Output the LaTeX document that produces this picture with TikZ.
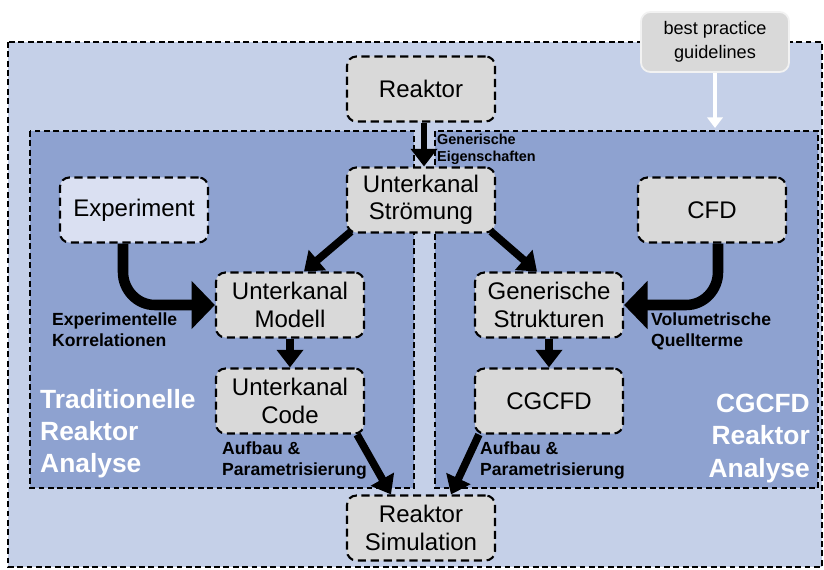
\documentclass[tikz,border=0pt]{standalone}
\usepackage{fontspec}
\setmainfont{Liberation Sans}
\usetikzlibrary{calc}
\usetikzlibrary{arrows.meta}
\definecolor{outerblue}{RGB}{197,208,232}
\definecolor{innerblue}{RGB}{142,162,208}
\definecolor{boxgray}{RGB}{217,217,217}
\definecolor{expblue}{RGB}{218,224,242}

\begin{document}
\begin{tikzpicture}[x=0.03cm,y=-0.03cm,
  frame/.style={draw,dash pattern=on 5pt off 3pt,line width=1.4pt},
  box/.style={draw,dash pattern=on 7pt off 4pt,line width=1.8pt,rounded corners=8pt,fill=boxgray,
    minimum width=4.44cm,minimum height=1.95cm,align=center,font=\fontsize{20.5}{23.5}\selectfont},
  lab/.style={font=\bfseries\fontsize{15}{17.5}\selectfont,align=left,inner sep=0pt},
  big/.style={font=\bfseries\fontsize{22.5}{27.5}\selectfont,text=white,inner sep=0pt},
  flow/.style={line width=6.5pt,-{Triangle[length=15pt,width=22pt]}}]

\useasboundingbox (0,0) rectangle (824,570);

% frames
\draw[frame,fill=outerblue] (8,42) rectangle (822,567);
\draw[frame,fill=innerblue] (30,131) rectangle (414,488);
\draw[frame,fill=innerblue] (435,131) rectangle (818,488);

% boxes
\node[box] (reaktor) at (421,89) {Reaktor};
\node[box] (stroemung) at (421,200) {Unterkanal\\Strömung};
\node[box,fill=expblue] (exp) at (134,210) {Experiment};
\node[box] (cfd) at (712,210) {CFD};
\node[box] (modell) at (290,305) {Unterkanal\\Modell};
\node[box] (strukturen) at (549,305) {Generische\\Strukturen};
\node[box] (code) at (290,401) {Unterkanal\\Code};
\node[box] (cgcfd) at (549,401) {CGCFD};
\node[box] (sim) at (421,528) {Reaktor\\Simulation};
\node[draw=white!90!gray,line width=1.5pt,rounded corners=8pt,fill=boxgray,minimum width=4.44cm,
  minimum height=1.8cm,align=center,font=\fontsize{15.5}{20}\selectfont] (bpg) at (715,42) {best practice\\guidelines};
\coordinate (bpgend) at (715,128);

% arrows
\draw[line width=3.5pt,white,-{Triangle[length=9pt,width=13pt]}] (bpg.south) -- (bpgend);
\draw[flow,line width=5pt] ($(reaktor.south)+(3,0)$) -- ($(stroemung.north)+(3,0)$);
\draw[flow] ($(stroemung.south west)+(5,-2)$) -- ($(modell.north)+(14,0)$);
\draw[flow] ($(stroemung.south east)+(-5,-2)$) -- ($(strukturen.north)+(-12,0)$);
\draw[flow] (modell.south) -- (code.north);
\draw[flow] (strukturen.south) -- (cgcfd.north);
\draw[flow] ($(code.south east)+(-8,0)$) -- ($(sim.north)+(-30,0)$);
\draw[flow] ($(cgcfd.south west)+(5,0)$) -- ($(sim.north)+(30,0)$);
\draw[line width=9pt,-{Triangle[length=20pt,width=40pt]}] ($(exp.south)+(-11,0)$) -- (123,272)
  to[out=-90,in=180] (155,305) -- (modell.west);
\draw[line width=9pt,-{Triangle[length=20pt,width=40pt]}] ($(cfd.south)+(6,0)$) -- (718,272)
  to[out=-90,in=0] (686,305) -- (strukturen.east);

% labels
\node[lab,font=\bfseries\fontsize{12.3}{14}\selectfont,anchor=north west] (eig) at (437,134) {Generische\\Eigenschaften};
\node[lab,anchor=north west] (korr) at (52,313) {Experimentelle\\Korrelationen};
\node[lab,anchor=north west] (quell) at (651,313) {Volumetrische\\Quellterme};
\node[lab,anchor=north west] (aufl) at (222,442) {Aufbau \&\\Parametrisierung};
\node[lab,anchor=north west] (aufr) at (480,442) {Aufbau \&\\Parametrisierung};
\node[big,align=left,anchor=north west] (trad) at (40,389) {Traditionelle\\Reaktor\\Analyse};
\node[big,align=right,anchor=north east] (cgana) at (810,394) {CGCFD\\Reaktor\\Analyse};

\end{tikzpicture}
\end{document}
